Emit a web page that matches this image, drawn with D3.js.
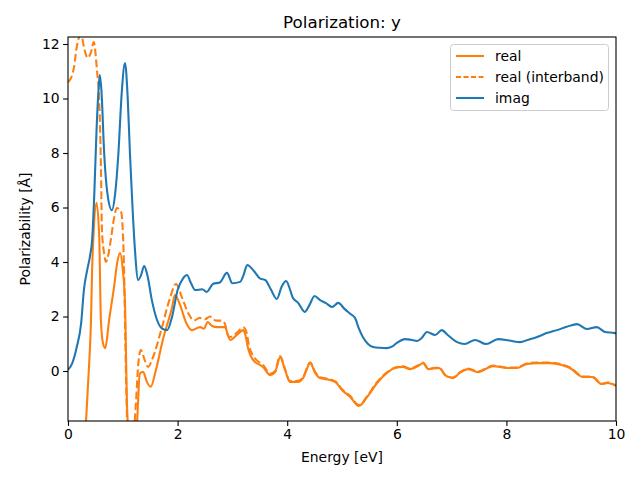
<!DOCTYPE html>
<html><head><meta charset="utf-8">
<script src="https://cdn.jsdelivr.net/npm/d3@7"></script>
<style>body{margin:0;background:#fff}svg{display:block;font-family:"DejaVu Sans",sans-serif}</style>
</head><body><svg id="c" width="640" height="480"></svg>
<script>
const title = "Polarization: y";
const xLabel = "Energy [eV]";
const yLabel = "Polarizability [Å]";
const xTicks = [0, 2, 4, 6, 8, 10];
const yTicks = [0, 2, 4, 6, 8, 10, 12];
const seriesNames = ["real", "real (interband)", "imag"];

const realE = [0.05,0.2,0.3,0.33,0.38,0.42,0.44,0.47,0.52,0.57,0.6,0.64,0.68,0.75,0.84,0.9,0.95,1.0,1.04,1.08,1.15,1.22,1.26,1.31,1.37,1.44,1.51,1.6,1.73,1.9,1.95,2.05,2.15,2.26,2.41,2.48,2.55,2.63,2.72,2.86,2.96,3.08,3.2,3.24,3.28,3.38,3.56,3.69,3.78,3.87,3.96,4.05,4.2,4.29,4.42,4.51,4.6,4.78,4.9,5.0,5.15,5.31,5.46,5.64,5.82,5.97,6.11,6.24,6.4,6.48,6.57,6.77,6.88,7.02,7.15,7.3,7.48,7.76,8.01,8.19,8.38,8.56,8.8,9.01,9.16,9.4,9.56,9.74,9.85,10.0];
const realV = [-30,-10,-3,-1.8,0.04,1.87,3.7,5.17,6.17,4.9,1.87,1.0,0.84,1.87,3.08,4.0,4.33,3.7,2.5,-1.43,-3.2,-2.6,-1.87,-0.1,-0.03,-0.4,-0.58,0.0,1.14,2.35,2.79,2.4,1.8,1.5,1.61,1.55,1.8,1.65,1.61,1.61,1.14,1.32,1.5,1.3,0.88,0.4,0.15,-0.15,-0.04,0.51,0.04,-0.4,-0.4,-0.26,0.29,-0.07,-0.26,-0.33,-0.44,-0.7,-0.95,-1.28,-0.95,-0.44,-0.07,0.11,0.15,0.07,0.2,0.29,0.07,0.11,-0.15,-0.26,-0.07,0.07,-0.04,0.18,0.11,0.11,0.26,0.29,0.29,0.22,0.11,-0.22,-0.22,-0.48,-0.44,-0.55];

const interE = [0.0,0.02,0.11,0.16,0.24,0.3,0.36,0.42,0.47,0.53,0.57,0.6,0.62,0.66,0.69,0.74,0.78,0.84,0.89,0.97,1.02,1.06,1.1,1.18,1.24,1.28,1.33,1.4,1.46,1.55,1.7,1.85,1.97,2.08,2.2,2.3,2.4,2.5,2.59,2.7,2.8,2.86,2.92,2.96,3.08,3.2,3.26,3.3,3.4,3.56,3.69,3.78,3.87,3.96,4.05,4.2,4.29,4.42,4.51,4.6,4.78,4.9,5.0,5.15,5.31,5.46,5.64,5.82,5.97,6.11,6.24,6.4,6.48,6.57,6.77,6.88,7.02,7.15,7.3,7.48,7.76,8.01,8.19,8.38,8.56,8.8,9.01,9.16,9.4,9.56,9.74,9.85,10.0];
const interV = [10.6,10.64,11.15,11.9,12.35,11.8,11.49,11.7,12.07,11.0,9.9,7.6,5.17,4.3,4.0,4.3,4.8,5.6,5.98,5.83,3.96,-0.33,-2.8,-2.6,-1.17,0.2,0.77,0.4,0.15,0.5,1.5,2.6,3.19,2.7,2.1,1.85,1.95,1.9,2.0,1.85,1.85,1.75,1.3,1.25,1.4,1.6,1.4,0.95,0.5,0.22,-0.1,0.0,0.55,0.08,-0.37,-0.36,-0.22,0.32,-0.04,-0.23,-0.3,-0.41,-0.67,-0.92,-1.25,-0.92,-0.41,-0.05,0.13,0.17,0.09,0.22,0.31,0.09,0.13,-0.13,-0.24,-0.05,0.09,-0.02,0.2,0.13,0.13,0.28,0.31,0.31,0.24,0.13,-0.2,-0.2,-0.46,-0.42,-0.53];

const imagE = [0,0.08,0.16,0.24,0.29,0.35,0.4,0.44,0.48,0.52,0.56,0.58,0.61,0.66,0.72,0.8,0.86,0.92,0.98,1.04,1.09,1.13,1.17,1.22,1.28,1.33,1.39,1.45,1.53,1.62,1.72,1.81,1.9,2.0,2.1,2.17,2.25,2.32,2.45,2.53,2.65,2.77,2.9,3.0,3.14,3.2,3.27,3.4,3.5,3.6,3.7,3.81,3.9,3.98,4.05,4.1,4.2,4.32,4.4,4.5,4.6,4.7,4.82,4.93,5.05,5.15,5.24,5.3,5.38,5.47,5.57,5.69,5.82,5.92,6.0,6.15,6.25,6.37,6.45,6.55,6.7,6.82,6.93,7.1,7.24,7.43,7.63,7.85,8.05,8.25,8.4,8.56,8.75,8.92,9.1,9.29,9.47,9.65,9.8,9.98,10.0];
const imagV = [0.04,0.3,0.88,1.76,2.97,3.7,4.2,4.8,6.5,8.8,10.4,10.86,10.3,8.0,6.5,5.9,6.5,8.0,10.2,11.3,10.0,8.0,6.3,4.5,3.34,3.5,3.85,3.5,2.6,1.9,1.55,1.5,2.0,2.97,3.4,3.52,3.2,2.97,3.0,2.9,3.2,3.25,3.6,3.22,3.27,3.5,3.89,3.65,3.4,3.34,3.0,2.64,3.1,3.3,3.0,2.7,2.5,2.17,2.4,2.75,2.6,2.5,2.35,2.5,2.27,2.1,1.94,1.6,1.25,1.0,0.88,0.85,0.84,0.9,1.03,1.17,1.15,1.1,1.2,1.43,1.32,1.5,1.32,1.06,0.99,1.14,0.99,1.17,1.12,1.06,1.15,1.25,1.4,1.5,1.62,1.72,1.54,1.61,1.43,1.39,1.38];

const svg = d3.select("#c");
const L = 68, R = 616, T = 37, B = 421;
const x = d3.scaleLinear().domain([0, 10]).range([L, R]);
const y = d3.scaleLinear().domain([-1.835, 12.257]).range([B, T]);

svg.append("defs").append("clipPath").attr("id", "clip")
  .append("rect").attr("x", L).attr("y", T).attr("width", R - L).attr("height", B - T);

const line = d3.line().x(d => x(d[0])).y(d => y(d[1])).curve(d3.curveMonotoneX);
const zip = (a, b) => a.map((v, i) => [v, b[i]]);

const g = svg.append("g").attr("clip-path", "url(#clip)");
g.append("path").datum(zip(realE, realV)).attr("d", line)
  .attr("fill", "none").attr("stroke", "#ff7f0e").attr("stroke-width", 2.08).attr("stroke-linejoin", "round");
g.append("path").datum(zip(interE, interV)).attr("d", line)
  .attr("fill", "none").attr("stroke", "#ff7f0e").attr("stroke-width", 2.08).attr("stroke-dasharray", "7.7,3.3");
g.append("path").datum(zip(imagE, imagV)).attr("d", line)
  .attr("fill", "none").attr("stroke", "#1f77b4").attr("stroke-width", 2.08).attr("stroke-linejoin", "round");

const xAxis = svg.append("g").attr("transform", `translate(0,${B})`)
  .call(d3.axisBottom(x).tickValues(xTicks).tickFormat(d3.format("d")).tickSizeOuter(0).tickSize(4.9).tickPadding(3.5));
const yAxis = svg.append("g").attr("transform", `translate(${L},0)`)
  .call(d3.axisLeft(y).tickValues(yTicks).tickFormat(d3.format("d")).tickSizeOuter(0).tickSize(4.9).tickPadding(3.5));
[xAxis, yAxis].forEach(a => {
  a.select(".domain").remove();
  a.selectAll("text").attr("font-size", 13.9).attr("fill", "#000").attr("font-family", "DejaVu Sans");
  a.selectAll("line").attr("stroke", "#000").attr("stroke-width", 1.1);
});

svg.append("rect").attr("x", L).attr("y", T).attr("width", R - L).attr("height", B - T)
  .attr("fill", "none").attr("stroke", "#000").attr("stroke-width", 1.1);

svg.append("text").attr("x", (L + R) / 2).attr("y", 28).attr("text-anchor", "middle")
  .attr("font-size", 16.7).text(title);
svg.append("text").attr("x", (L + R) / 2).attr("y", 462).attr("text-anchor", "middle")
  .attr("font-size", 13.9).text(xLabel);
svg.append("text").attr("transform", `translate(30,${(T + B) / 2}) rotate(-90)`).attr("text-anchor", "middle")
  .attr("font-size", 13.9).text(yLabel);

// legend
const lg = svg.append("g");
lg.append("rect").attr("x", 450.5).attr("y", 44.5).attr("width", 158).attr("height", 66).attr("rx", 3)
  .attr("fill", "#fff").attr("fill-opacity", 0.8).attr("stroke", "#ccc").attr("stroke-width", 1);
const styles = [{c: "#ff7f0e", d: null}, {c: "#ff7f0e", d: "5,2.5"}, {c: "#1f77b4", d: null}];
seriesNames.forEach((n, i) => {
  const yy = 56 + i * 21;
  lg.append("line").attr("x1", 456).attr("x2", 484).attr("y1", yy).attr("y2", yy)
    .attr("stroke", styles[i].c).attr("stroke-width", 2.08).attr("stroke-dasharray", styles[i].d);
  lg.append("text").attr("x", 495).attr("y", yy + 5).attr("font-size", 13.9).text(n);
});
</script></body></html>
